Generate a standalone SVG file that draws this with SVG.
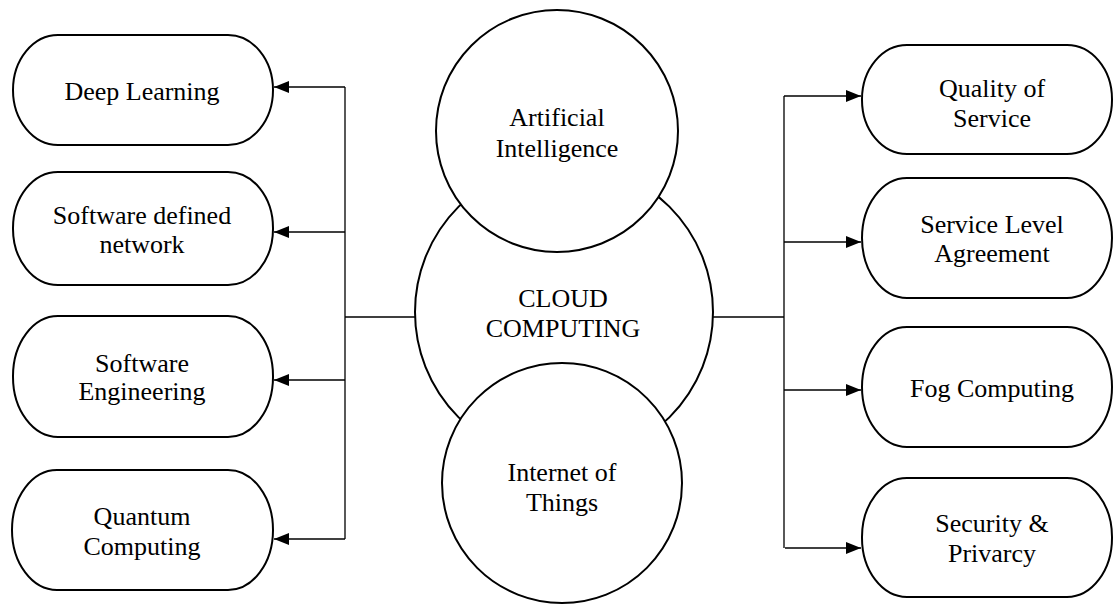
<svg xmlns="http://www.w3.org/2000/svg" width="1115" height="605" viewBox="0 0 1115 605">
<defs>
<style>
.node{fill:#fff;stroke:#000;stroke-width:2}
.t{font-family:'Liberation Serif','Times New Roman',Tinos,'DejaVu Serif',serif;font-size:26px;fill:#000;text-anchor:middle}
.c{fill:none;stroke:#000;stroke-width:1.3}
</style>
<marker id="ah" viewBox="0 0 15 12" refX="15" refY="6" markerWidth="15" markerHeight="12" markerUnits="userSpaceOnUse" orient="auto">
<path d="M0,0 L15,6 L0,12 Z" fill="#000"/>
</marker>
</defs>
<g id="connectors">
<path class="c" d="M415,317 H345 M345,87 V539"/>
<path class="c" d="M345,87 H274" marker-end="url(#ah)"/>
<path class="c" d="M345,232 H274" marker-end="url(#ah)"/>
<path class="c" d="M345,380 H274" marker-end="url(#ah)"/>
<path class="c" d="M345,539 H274" marker-end="url(#ah)"/>
<path class="c" d="M713,317 H784 M784,96 V548"/>
<path class="c" d="M784,96 H861" marker-end="url(#ah)"/>
<path class="c" d="M784,242 H861" marker-end="url(#ah)"/>
<path class="c" d="M784,390 H861" marker-end="url(#ah)"/>
<path class="c" d="M785,548 H861" marker-end="url(#ah)"/>
</g>
<g id="cloud"><circle class="node" cx="564" cy="312" r="149"/><text class="t" x="563" y="307">CLOUD</text><text class="t" x="563" y="337">COMPUTING</text></g>
<g id="ai"><circle class="node" cx="557" cy="131" r="121"/><text class="t" x="557" y="126">Artificial</text><text class="t" x="557" y="157">Intelligence</text></g>
<g id="iot"><circle class="node" cx="562" cy="483" r="120"/><text class="t" x="562" y="481">Internet of</text><text class="t" x="562" y="511">Things</text></g>
<g id="deep-learning"><rect class="node" x="13" y="35" width="260" height="110" rx="45" ry="55"/><text class="t" x="142" y="100">Deep Learning</text></g>
<g id="sdn"><rect class="node" x="13" y="172" width="260" height="113" rx="45" ry="56"/><text class="t" x="142" y="224">Software defined</text><text class="t" x="142" y="253">network</text></g>
<g id="se"><rect class="node" x="13" y="316" width="260" height="121" rx="45" ry="60"/><text class="t" x="142" y="372">Software</text><text class="t" x="142" y="400">Engineering</text></g>
<g id="qc"><rect class="node" x="12" y="470" width="261" height="120" rx="45" ry="60"/><text class="t" x="142" y="525">Quantum</text><text class="t" x="142" y="555">Computing</text></g>
<g id="qos"><rect class="node" x="862" y="45" width="250" height="109" rx="45" ry="54"/><text class="t" x="992" y="97">Quality of</text><text class="t" x="992" y="127">Service</text></g>
<g id="sla"><rect class="node" x="862" y="178" width="250" height="120" rx="45" ry="60"/><text class="t" x="992" y="233">Service Level</text><text class="t" x="992" y="262">Agreement</text></g>
<g id="fog"><rect class="node" x="862" y="327" width="250" height="120" rx="45" ry="60"/><text class="t" x="992" y="397">Fog Computing</text></g>
<g id="sp"><rect class="node" x="862" y="478" width="250" height="119" rx="45" ry="59"/><text class="t" x="992" y="532">Security &amp;</text><text class="t" x="992" y="562">Privarcy</text></g>
</svg>
